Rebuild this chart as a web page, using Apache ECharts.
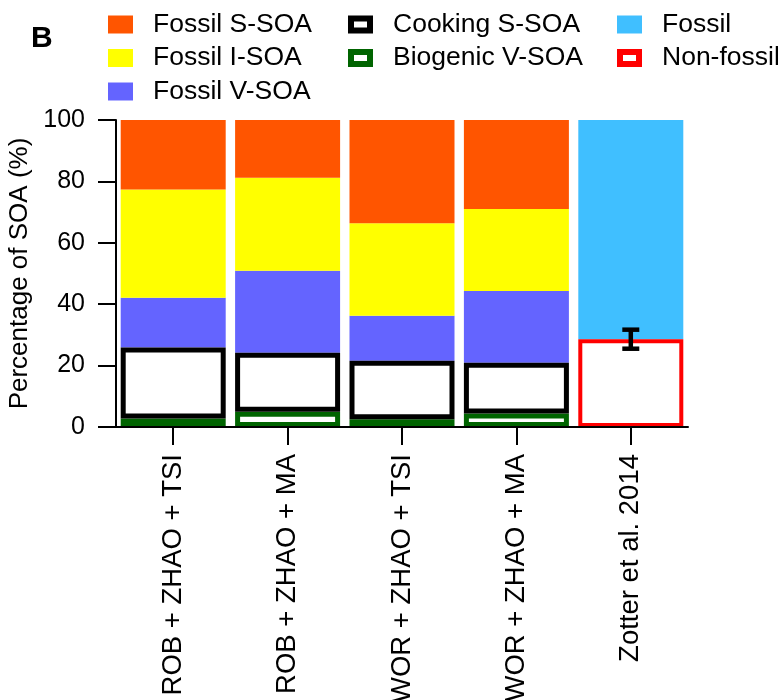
<!DOCTYPE html>
<html>
<head>
<meta charset="utf-8">
<title>SOA source apportionment</title>
<script src="https://cdn.jsdelivr.net/npm/echarts@6/dist/echarts.min.js"></script>
<style>
  html, body { margin: 0; padding: 0; background: #fff; }
  #chart { width: 778px; height: 700px; }
</style>
</head>
<body>
<div id="chart"></div>
<script>
// Model scenarios (first four) and the radiocarbon reference (last)
const categories = [
  'ROB + ZHAO + TSI',
  'ROB + ZHAO + MA',
  'WOR + ZHAO + TSI',
  'WOR + ZHAO + MA',
  'Zotter et al. 2014'
];

// Contributions to SOA (%), stacked from the bottom up
const biogenicVSOA = [2.8, 5.0, 2.5, 4.4, null];
const cookingSSOA  = [23.1, 19.2, 19.1, 16.5, null];
const fossilVSOA   = [16.2, 26.7, 14.6, 23.4, null];
const fossilISOA   = [35.3, 30.3, 30.2, 26.7, null];
const fossilSSOA   = [22.6, 18.8, 33.6, 29.0, null];
const nonFossil    = [null, null, null, null, 28.6];
const fossil       = [null, null, null, null, 71.4];
const nonFossilErr = [null, null, null, null, 3.1];

const yTicks = [0, 20, 40, 60, 80, 100];

const FONT = 'Liberation Sans, Arial, Helvetica, sans-serif';
const BAR_WIDTH = 105;

const COLORS = {
  fossilS: '#ff5500',
  fossilI: '#ffff00',
  fossilV: '#6464ff',
  cooking: '#000000',
  biogenic: '#006400',
  fossil: '#40bfff',
  nonFossil: '#ff0000'
};

// Hollow rectangle used for the outlined legend entries
const FRAME_ICON = 'path://M0,0H25V18H0Z M6,6V12H19V6Z';

// Running base under each stacked layer, used to place the outlines
function baseOf(layers, i) {
  let s = 0;
  layers.forEach(arr => { if (arr[i] != null) s += arr[i]; });
  return s;
}

function outlineData(values, lowerLayers) {
  const out = [];
  values.forEach((v, i) => {
    if (v == null) return;
    const b = baseOf(lowerLayers, i);
    out.push([i, b, b + v]);
  });
  return out;
}

// Box outline drawn inside the bar's own footprint
function outlineRenderer(color, lw) {
  return function (params, api) {
    const cat = api.value(0);
    const p0 = api.coord([cat, api.value(1)]);
    const p1 = api.coord([cat, api.value(2)]);
    const h = p0[1] - p1[1];
    return {
      type: 'rect',
      shape: {
        x: p0[0] - BAR_WIDTH / 2 + lw / 2,
        y: p1[1] + lw / 2,
        width: BAR_WIDTH - lw,
        height: Math.max(h - lw, 0)
      },
      style: { fill: 'none', stroke: color, lineWidth: lw }
    };
  };
}

const errData = [];
nonFossil.forEach((v, i) => {
  if (v != null && nonFossilErr[i] != null) {
    errData.push([i, v - nonFossilErr[i], v + nonFossilErr[i]]);
  }
});

function errorBarRenderer(params, api) {
  const cat = api.value(0);
  const lo = api.coord([cat, api.value(1)]);
  const hi = api.coord([cat, api.value(2)]);
  const cap = 8.5;
  const lw = 4.5;
  const st = { stroke: '#000', lineWidth: lw };
  return {
    type: 'group',
    children: [
      { type: 'line', shape: { x1: lo[0], y1: lo[1], x2: hi[0], y2: hi[1] }, style: st },
      { type: 'line', shape: { x1: hi[0] - cap, y1: hi[1], x2: hi[0] + cap, y2: hi[1] }, style: st },
      { type: 'line', shape: { x1: lo[0] - cap, y1: lo[1], x2: lo[0] + cap, y2: lo[1] }, style: st }
    ]
  };
}

function barSeries(name, data, color) {
  return {
    name: name,
    type: 'bar',
    stack: 'soa',
    barWidth: BAR_WIDTH,
    data: data,
    itemStyle: { color: color, borderWidth: 0 },
    emphasis: { disabled: true },
    animation: false
  };
}

const legendText = { fontFamily: FONT, fontSize: 26.5, color: '#000', lineHeight: 26, padding: [0, 0, 0, 15] };
function legendBlock(left, top, items) {
  return {
    orient: 'vertical',
    left: left,
    top: top,
    itemWidth: 25,
    itemHeight: 18,
    itemGap: 6.5,
    selectedMode: false,
    textStyle: legendText,
    data: items
  };
}

const chart = echarts.init(document.getElementById('chart'), null, { renderer: 'canvas' });

chart.setOption({
  backgroundColor: '#fff',
  animation: false,
  title: {
    text: 'B',
    left: 26,
    top: 19,
    textStyle: { fontFamily: FONT, fontSize: 30, fontWeight: 'bold', color: '#000' }
  },
  legend: [
    legendBlock(103, 6, [
      { name: 'Fossil S-SOA', icon: 'rect', itemStyle: { color: COLORS.fossilS } },
      { name: 'Fossil I-SOA', icon: 'rect', itemStyle: { color: COLORS.fossilI } },
      { name: 'Fossil V-SOA', icon: 'rect', itemStyle: { color: COLORS.fossilV } }
    ]),
    legendBlock(343, 6, [
      { name: 'Cooking S-SOA', icon: FRAME_ICON, itemStyle: { color: COLORS.cooking } },
      { name: 'Biogenic V-SOA', icon: FRAME_ICON, itemStyle: { color: COLORS.biogenic } }
    ]),
    legendBlock(612, 6, [
      { name: 'Fossil', icon: 'rect', itemStyle: { color: COLORS.fossil } },
      { name: 'Non-fossil', icon: FRAME_ICON, itemStyle: { color: COLORS.nonFossil } }
    ])
  ],
  grid: {
    left: 116, right: 90, top: 120, bottom: 273,
    containLabel: false,
    outerBoundsMode: 'none'
  },
  xAxis: {
    type: 'category',
    data: categories,
    boundaryGap: true,
    axisLine: { show: true, lineStyle: { color: '#000', width: 2 } },
    axisTick: { show: true, alignWithLabel: true, length: 18, lineStyle: { color: '#000', width: 2 } },
    axisLabel: {
      rotate: 90,
      margin: 27,
      interval: 0,
      fontFamily: FONT,
      fontSize: 27.5,
      color: '#000'
    },
    splitLine: { show: false },
    z: 5
  },
  yAxis: {
    type: 'value',
    min: yTicks[0],
    max: yTicks[yTicks.length - 1],
    interval: yTicks[1] - yTicks[0],
    name: 'Percentage of SOA (%)',
    nameLocation: 'middle',
    nameRotate: 90,
    nameGap: 70,
    nameTextStyle: { fontFamily: FONT, fontSize: 26, color: '#000' },
    axisLine: { show: true, lineStyle: { color: '#000', width: 2 } },
    axisTick: { show: true, length: 18, lineStyle: { color: '#000', width: 2 } },
    axisLabel: { margin: 31, fontFamily: FONT, fontSize: 25, color: '#000' },
    splitLine: { show: false },
    z: 5
  },
  series: [
    barSeries('Biogenic V-SOA', biogenicVSOA, '#ffffff'),
    barSeries('Cooking S-SOA', cookingSSOA, '#ffffff'),
    barSeries('Fossil V-SOA', fossilVSOA, COLORS.fossilV),
    barSeries('Fossil I-SOA', fossilISOA, COLORS.fossilI),
    barSeries('Fossil S-SOA', fossilSSOA, COLORS.fossilS),
    barSeries('Non-fossil', nonFossil, '#ffffff'),
    barSeries('Fossil', fossil, COLORS.fossil),
    {
      name: 'biogenic-outline',
      type: 'custom',
      renderItem: outlineRenderer(COLORS.biogenic, 5),
      data: outlineData(biogenicVSOA, []),
      z: 3,
      silent: true
    },
    {
      name: 'cooking-outline',
      type: 'custom',
      renderItem: outlineRenderer(COLORS.cooking, 5),
      data: outlineData(cookingSSOA, [biogenicVSOA]),
      z: 3,
      silent: true
    },
    {
      name: 'nonfossil-outline',
      type: 'custom',
      renderItem: outlineRenderer(COLORS.nonFossil, 4),
      data: outlineData(nonFossil, []),
      z: 3,
      silent: true
    },
    {
      name: 'nonfossil-error',
      type: 'custom',
      renderItem: errorBarRenderer,
      data: errData,
      z: 4,
      silent: true
    }
  ]
});
</script>
</body>
</html>
